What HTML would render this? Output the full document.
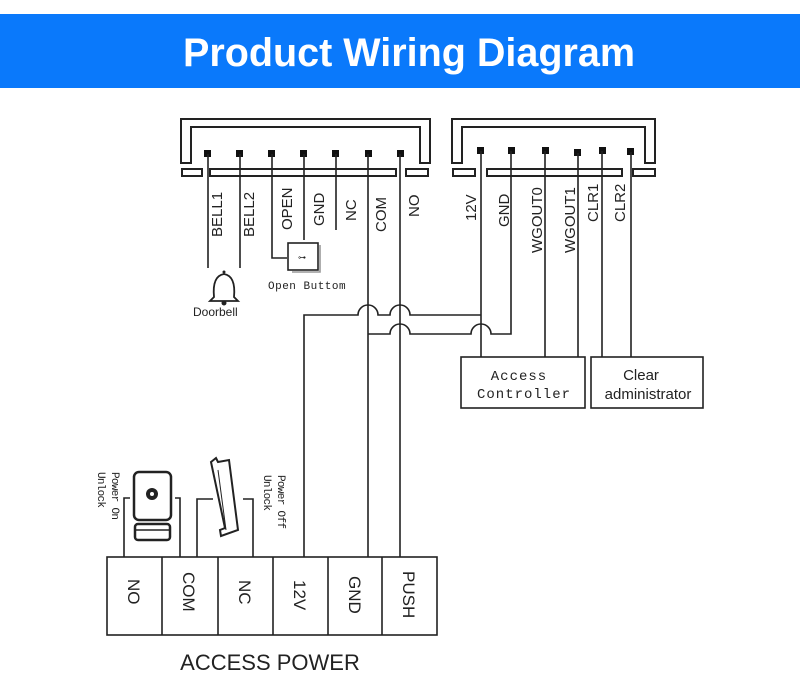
<!DOCTYPE html>
<html><head><meta charset="utf-8"><style>
html,body{margin:0;padding:0;background:#fff;}
svg{display:block;}
text{font-family:"Liberation Sans",sans-serif;fill:#222;}
text.m{font-family:"Liberation Mono",monospace;}
</style></head><body>
<svg width="800" height="700" viewBox="0 0 800 700" xmlns="http://www.w3.org/2000/svg">
<rect x="0" y="14" width="800" height="74" fill="#0a79fb"/>
<text x="409" y="66" text-anchor="middle" font-size="40" font-weight="bold" style="fill:#fff" textLength="452" lengthAdjust="spacingAndGlyphs">Product Wiring Diagram</text>

<g stroke="#222" stroke-width="2" fill="none">
<path d="M181 163 V119 H430 V163 H420 V127 H191 V163 Z"/>
<rect x="182" y="169" width="20" height="7"/>
<rect x="210" y="169" width="186" height="7"/>
<rect x="406" y="169" width="22" height="7"/>
<path d="M452 163 V119 H655 V163 H645 V127 H462 V163 Z"/>
<rect x="453" y="169" width="22" height="7"/>
<rect x="487" y="169" width="135" height="7"/>
<rect x="633" y="169" width="22" height="7"/>
</g>
<g fill="#111">
<rect x="204" y="150" width="7" height="7"/><rect x="236" y="150" width="7" height="7"/><rect x="268" y="150" width="7" height="7"/><rect x="300" y="150" width="7" height="7"/><rect x="332" y="150" width="7" height="7"/><rect x="365" y="150" width="7" height="7"/><rect x="397" y="150" width="7" height="7"/>
<rect x="477" y="147" width="7" height="7"/><rect x="508" y="147" width="7" height="7"/><rect x="542" y="147" width="7" height="7"/><rect x="574" y="149" width="7" height="7"/><rect x="599" y="147" width="7" height="7"/><rect x="627" y="148" width="7" height="7"/>
</g>
<g stroke="#222" stroke-width="1.6" fill="none">
<line x1="208" y1="154" x2="208" y2="268"/>
<line x1="240" y1="154" x2="240" y2="268"/>
<path d="M272 154 V258 H287"/>
<line x1="304" y1="154" x2="304" y2="240"/>
<line x1="336" y1="154" x2="336" y2="230"/>
<line x1="368" y1="154" x2="368" y2="557"/>
<line x1="400" y1="154" x2="400" y2="557"/>
<line x1="481" y1="151" x2="481" y2="357"/>
<path d="M511 151 V334 H491 A10 10 0 0 0 471 334 H410 A10 10 0 0 0 390 334 H368"/>
<line x1="545" y1="151" x2="545" y2="357"/>
<line x1="578" y1="153" x2="578" y2="357"/>
<line x1="602" y1="151" x2="602" y2="357"/>
<line x1="631" y1="152" x2="631" y2="357"/>
<path d="M304 557 V315 H358 A10 10 0 0 1 378 315 H390 A10 10 0 0 1 410 315 H481"/>
<rect x="288" y="243" width="30" height="27"/>
<path d="M292 272 H320 V245" stroke="#999"/>
<rect x="461" y="357" width="124" height="51"/>
<rect x="591" y="357" width="112" height="51"/>
<rect x="107" y="557" width="330" height="78"/>
<line x1="162" y1="557" x2="162" y2="635"/><line x1="218" y1="557" x2="218" y2="635"/><line x1="273" y1="557" x2="273" y2="635"/><line x1="328" y1="557" x2="328" y2="635"/><line x1="382" y1="557" x2="382" y2="635"/>
<path d="M124 557 V498 H130"/><path d="M180 557 V498 H175"/>
<path d="M197 557 V499 H213"/><path d="M253 557 V499 H243"/>
<path d="M214 297 Q212 276 224 274 Q236 276 234 297 L238 301 H210 Z" stroke-width="1.8"/>
</g>
<circle cx="224" cy="303" r="2.5" fill="#222"/>
<circle cx="224" cy="272" r="1.5" fill="#222"/>
<text x="298" y="260" font-size="8" class="m">⊶</text>
<rect x="134" y="472" width="37" height="48" rx="5" fill="#fff" stroke="#222" stroke-width="2.5"/>
<circle cx="152" cy="494" r="6" fill="#222"/>
<circle cx="152" cy="494" r="2" fill="#fff"/>
<rect x="135" y="524" width="35" height="16" rx="3" fill="#fff" stroke="#222" stroke-width="2.5"/>
<line x1="135" y1="530" x2="170" y2="530" stroke="#222" stroke-width="1.5"/>
<polygon points="211,462 216,458 218,462 229,460 238,530 221,536 220,530 225,528" fill="#fff" stroke="#222" stroke-width="2"/>
<line x1="218" y1="470" x2="226" y2="530" stroke="#222" stroke-width="1"/>

<g font-size="15">
<text transform="translate(222,237) rotate(-90)">BELL1</text>
<text transform="translate(254,237) rotate(-90)">BELL2</text>
<text transform="translate(292,230) rotate(-90)">OPEN</text>
<text transform="translate(324,226) rotate(-90)">GND</text>
<text transform="translate(356,221) rotate(-90)">NC</text>
<text transform="translate(386,232) rotate(-90)">COM</text>
<text transform="translate(419,217) rotate(-90)">NO</text>
<text transform="translate(476,221) rotate(-90)">12V</text>
<text transform="translate(509,227) rotate(-90)">GND</text>
<text transform="translate(542,253) rotate(-90)">WGOUT0</text>
<text transform="translate(575,253) rotate(-90)">WGOUT1</text>
<text transform="translate(598,222) rotate(-90)">CLR1</text>
<text transform="translate(625,222) rotate(-90)">CLR2</text>
</g>
<text x="268" y="289" font-size="11" class="m" letter-spacing="0.5">Open Buttom</text>
<text x="193" y="316" font-size="12">Doorbell</text>
<text x="519" y="380" font-size="14" class="m" text-anchor="middle" letter-spacing="1">Access</text>
<text x="524" y="398" font-size="14" class="m" text-anchor="middle" letter-spacing="1">Controller</text>
<text x="641" y="380" font-size="15" text-anchor="middle">Clear</text>
<text x="648" y="399" font-size="15" text-anchor="middle">administrator</text>
<text class="m" font-size="11" transform="translate(112,472) rotate(90)" textLength="48">Power On</text>
<text class="m" font-size="11" transform="translate(98,472) rotate(90)" textLength="36">Unlock</text>
<text class="m" font-size="11" transform="translate(278,475) rotate(90)" textLength="54">Power Off</text>
<text class="m" font-size="11" transform="translate(264,475) rotate(90)" textLength="36">Unlock</text>
<g font-size="17">
<text transform="translate(128,579) rotate(90)">NO</text>
<text transform="translate(183,572) rotate(90)">COM</text>
<text transform="translate(239,580) rotate(90)">NC</text>
<text transform="translate(294,580) rotate(90)">12V</text>
<text transform="translate(349,576) rotate(90)">GND</text>
<text transform="translate(403,571) rotate(90)">PUSH</text>
</g>
<text x="270" y="670" font-size="22" text-anchor="middle">ACCESS POWER</text>
</svg>
</body></html>
